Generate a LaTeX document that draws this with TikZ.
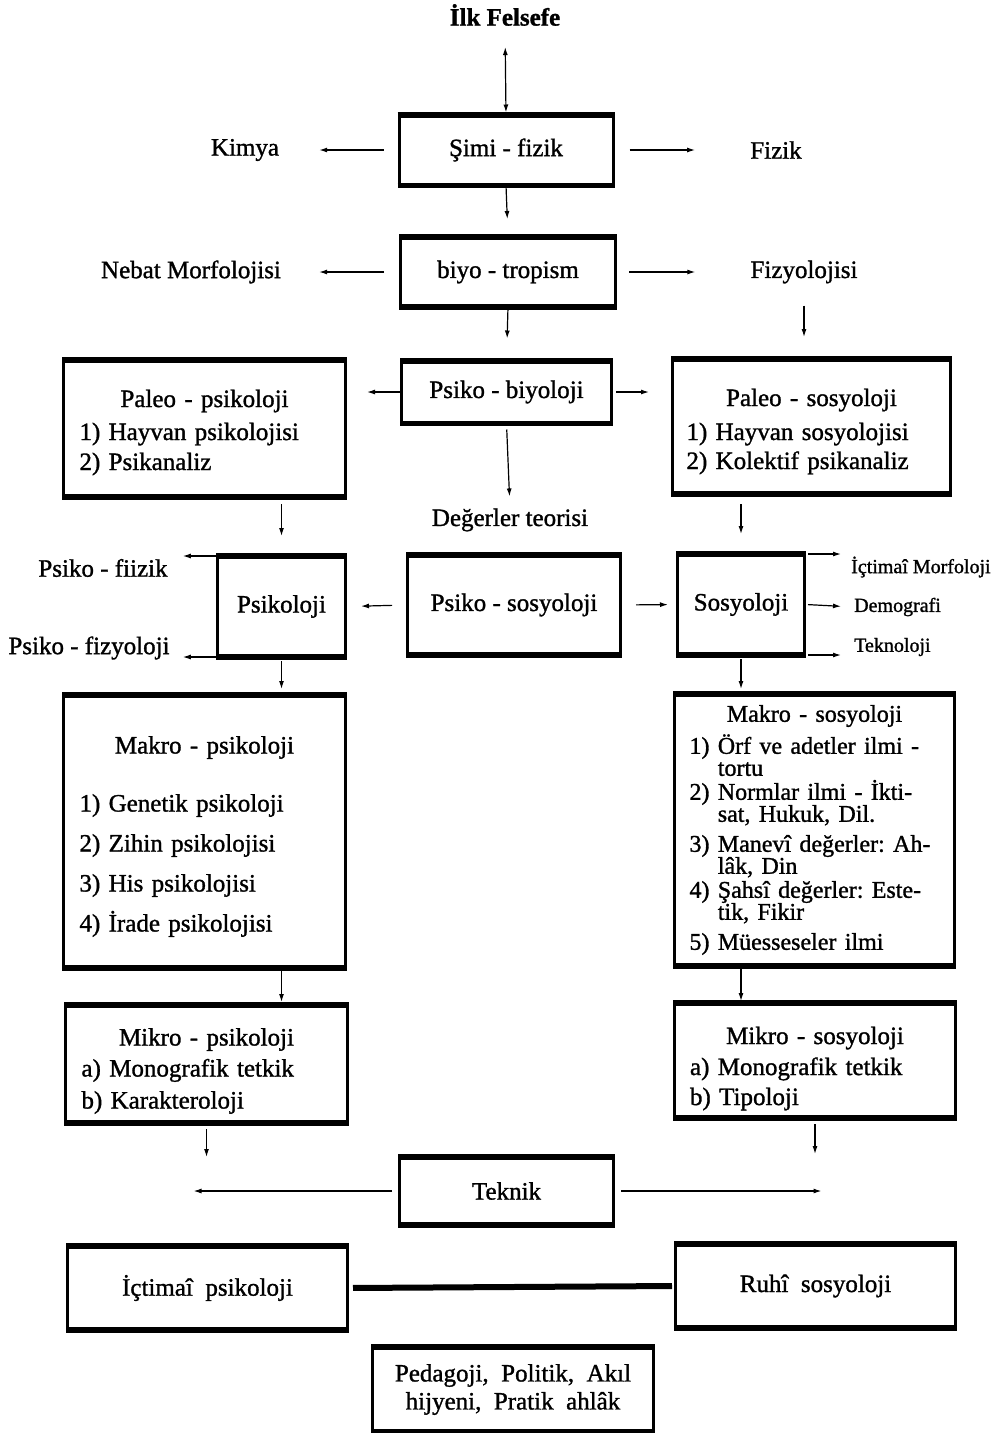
\documentclass[tikz,border=0pt]{standalone}
\usepackage{fontspec}
\setmainfont{Liberation Serif}[FakeBold=1.2]
\usepackage{tikz}
\usetikzlibrary{arrows.meta}
\frenchspacing
\newcommand{\boxfont}{\fontsize{25}{22}\selectfont\lineskiplimit=-100pt\relax}
\newcommand{\PaleoPsi}{
  {\centering Paleo - psikoloji\par}\vspace{11pt}
  1) Hayvan psikolojisi\\[8pt]
  2) Psikanaliz\vspace{-8pt}
}
\newcommand{\PaleoSos}{
  {\centering Paleo - sosyoloji\par}\vspace{12pt}
  1) Hayvan sosyolojisi\\[7pt]
  2) Kolektif psikanaliz\vspace{-10pt}
}
\newcommand{\MakroPsi}{
  {\centering Makro - psikoloji\par}\vspace{36pt}
  1) Genetik psikoloji\\[18pt]
  2) Zihin psikolojisi\\[18pt]
  3) His psikolojisi\\[18pt]
  4) İrade psikolojisi\vspace{-10pt}
}
\newcommand{\MakroSos}{
  \fontsize{24}{22}\selectfont
  {\centering Makro - sosyoloji\par}\vspace{10pt}
  1) Örf ve adetler ilmi -\\
  \phantom{1) }tortu\\[2pt]
  2) Normlar ilmi - İkti-\\
  \phantom{2) }sat, Hukuk, Dil.\\[8pt]
  3) Manevî değerler: Ah-\\
  \phantom{3) }lâk, Din\\[2pt]
  4) Şahsî değerler: Este-\\
  \phantom{4) }tik, Fikir\\[8pt]
  5) Müesseseler ilmi
}
\newcommand{\MikroPsi}{
  {\centering Mikro - psikoloji\par}\vspace{9pt}
  a) Monografik tetkik\\[10pt]
  b) Karakteroloji\vspace{-14pt}
}
\newcommand{\MikroSos}{
  {\centering Mikro - sosyoloji\par}\vspace{9pt}
  a) Monografik tetkik\\[8pt]
  b) Tipoloji\vspace{-16pt}
}
\begin{document}
\begin{tikzpicture}[
    x=1pt, y=-1pt,
    font=\boxfont,
    box/.style={draw, line width=3pt, inner sep=0pt, align=center,
      append after command={
        (\tikzlastnode.north west) edge[line width=5.5pt] (\tikzlastnode.north east)
        (\tikzlastnode.south west) edge[line width=5.5pt] (\tikzlastnode.south east)}},
    list/.style={box, text width=250pt, align=left},
    word/.style={inner sep=0pt},
    small/.style={inner sep=0pt, font=\fontsize{20}{22}\selectfont},
    arr/.style={-{Latex[length=8pt,width=5pt]}, line width=1.2pt}
]
\useasboundingbox (0,0) rectangle (1002,1433);
% top
\node[word, font=\fontsize{25}{28}\selectfont\bfseries] (ilk) at (505,15) {İlk Felsefe};
\node[box, minimum width=214pt, minimum height=68pt] (simi) at (506,150) {Şimi - fizik};
\node[word] (kimya) at (245,150) {Kimya};
\node[word] (fizik) at (776,150) {Fizik};
\node[box, minimum width=215pt, minimum height=67pt] (biyo) at (508,272) {biyo - tropism};
\node[word] (nebat) at (191,272) {Nebat Morfolojisi};
\node[word] (fizyo) at (804,272) {Fizyolojisi};
\node[box, minimum width=210pt, minimum height=60pt] (pb) at (506.5,392) {Psiko - biyoloji};
\node[list, minimum width=282pt, minimum height=134pt] (pp) at (204.5,428.5) {\PaleoPsi};
\node[list, minimum width=278pt, minimum height=132pt] (ps) at (811.5,426.5) {\PaleoSos};
\node[word] (deg) at (510,520) {Değerler teorisi};
% middle row
\node[box, minimum width=128pt, minimum height=98pt] (psi) at (281.5,606.5) {Psikoloji};
\node[box, minimum width=213pt, minimum height=97pt] (psos) at (514,605) {Psiko - sosyoloji};
\node[box, minimum width=127pt, minimum height=98pt] (soc) at (741,604.5) {Sosyoloji};
\node[word] (fiizik) at (103,568) {Psiko - fiizik};
\node[word] (pfizyo) at (89,648) {Psiko - fizyoloji};
\node[small, anchor=west] (morf) at (851,567) {İçtimaî Morfoloji};
\node[small, anchor=west] (demo) at (854,607) {Demografi};
\node[small, anchor=west] (tekno) at (854,647) {Teknoloji};
% lower boxes
\node[list, minimum width=282pt, minimum height=270pt] (mp) at (204.5,831.5) {\MakroPsi};
\node[list, minimum width=280pt, minimum height=269pt] (ms) at (814.5,830) {\MakroSos};
\node[list, minimum width=282pt, minimum height=115pt] (mikp) at (206.5,1064) {\MikroPsi};
\node[list, minimum width=281pt, minimum height=112pt] (miks) at (815,1060.5) {\MikroSos};
\node[box, minimum width=214pt, minimum height=65pt] (tek) at (506.5,1191) {Teknik};
\node[box, minimum width=280pt, minimum height=81pt] (icp) at (207.5,1288) {İçtimaî \ psikoloji};
\node[box, minimum width=280pt, minimum height=81pt] (ruhi) at (815.5,1286) {Ruhî \ sosyoloji};
\node[box, minimum width=281pt, minimum height=82pt] (ped) at (513,1389.5) {Pedagoji, \ Politik, \ Akıl\\[6pt] hijyeni, \ Pratik \ ahlâk};

\draw[arr, {Latex[length=8pt,width=5pt]}-{Latex[length=8pt,width=5pt]}, shorten <=21pt, shorten >=2pt] (ilk.south) -- (simi.north);
\draw[arr, shorten <=14pt, shorten >=40pt] (simi.west) -- (kimya.east);
\draw[arr, shorten <=15pt, shorten >=55pt] (simi.east) -- (fizik.west);
\draw[arr, shorten <=1pt, shorten >=18pt] (simi.south) -- (biyo.north);
\draw[arr, shorten <=15pt, shorten >=38pt] (biyo.west) -- (nebat.east);
\draw[arr, shorten <=12pt, shorten >=55pt] (biyo.east) -- (fizyo.west);
\draw[arr, shorten <=1pt, shorten >=22pt] (biyo.south) -- (pb.north);
\draw[arr, shorten <=22pt, shorten >=22pt] (fizyo.south) -- (fizyo.south |- ps.north);
\draw[arr, shorten >=20pt] (pb.west) -- (pb.west -| pp.east);
\draw[arr, shorten <=3pt, shorten >=22pt] (pb.east) -- (pb.east -| ps.west);
\draw[arr, shorten <=6pt, shorten >=12pt] (pb.south) -- (deg.north);
\draw[arr, shorten <=7pt, shorten >=20pt] (pp.south -| psi) -- (psi.north);
\draw[arr, shorten <=10pt, shorten >=20pt] (ps.south -| soc) -- (soc.north);
\draw[arr, shorten >=15pt] (psi.north west) -- (psi.north west -| fiizik.east);
\draw[arr, shorten >=13pt] (psi.south west) -- (psi.south west -| pfizyo.east);
\draw[arr, shorten <=14pt, shorten >=14pt] (psos.west) -- (psi.east);
\draw[arr, shorten <=14pt, shorten >=8pt] (psos.east) -- (soc.west);
\draw[arr, shorten <=2pt, shorten >=10pt] (soc.north east) -- (soc.north east -| morf.west);
\draw[arr, shorten <=2pt, shorten >=13pt] (soc.east) -- (demo.west);
\draw[arr, shorten <=2pt, shorten >=13pt] (soc.south east) -- (soc.south east -| tekno.west);
\draw[arr, shorten <=4pt, shorten >=6pt] (psi.south) -- (mp.north -| psi);
\draw[arr, shorten <=4pt, shorten >=5pt] (soc.south) -- (ms.north -| soc);
\draw[arr, shorten <=3pt, shorten >=3pt] (mp.south -| psi) -- (mikp.north -| psi);
\draw[arr, shorten <=3pt, shorten >=2pt] (ms.south -| soc) -- (miks.north -| soc);
\draw[arr, shorten <=6pt] (mikp.south) -- (mikp.south |- tek.north);
\draw[arr, shorten <=6pt, shorten >=3pt] (miks.south) -- (miks.south |- tek.north);
\draw[arr, shorten <=6pt, shorten >=-14pt] (tek.west) -- (tek.west -| icp);
\draw[arr, shorten <=6pt, shorten >=-6pt] (tek.east) -- (tek.east -| ruhi);
\draw[line width=6pt, shorten <=4pt, shorten >=2pt] (icp.east) -- (ruhi.west);
\end{tikzpicture}
\end{document}
